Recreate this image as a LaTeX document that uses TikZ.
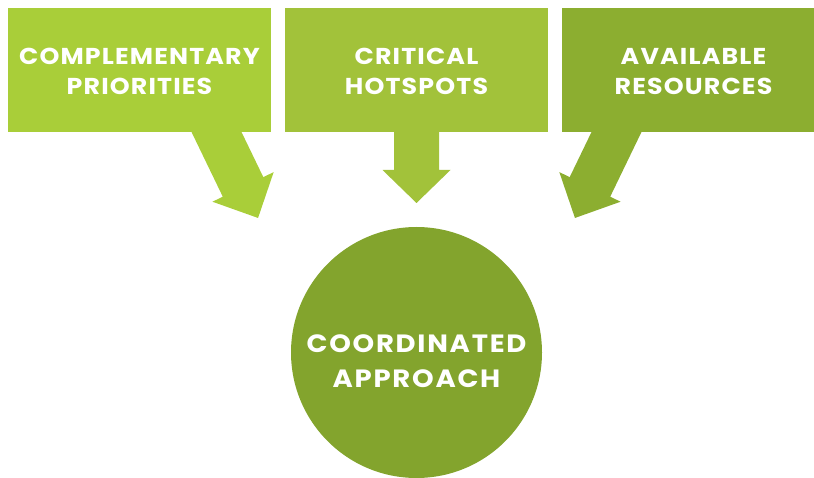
\documentclass[tikz,border=0pt]{standalone}
\usepackage{fontspec}
\setsansfont{Poppins}[FakeStretch=1.1, LetterSpace=5]
\newfontfamily\hubfont{Poppins}[FakeStretch=1.1, LetterSpace=7]
\usetikzlibrary{calc}
\definecolor{greenA}{RGB}{169,206,57}
\definecolor{greenB}{RGB}{162,194,58}
\definecolor{greenC}{RGB}{140,174,48}
\definecolor{greenD}{RGB}{131,164,45}
\tikzset{
  pics/bigarrow/.style 2 args={code={
    \fill[pic actions] (-14,22.5) -- (#1,22.5) -- (#1,34) -- (#2,0)
      -- (#1,-34) -- (#1,-22.5) -- (-14,-22.5) -- cycle;
  }},
  panel/.style={fill=#1, minimum width=263pt, minimum height=124pt,
    inner sep=0pt, outer sep=0pt},
  paneltext/.style={text=white, align=center, inner sep=0pt,
    font=\sffamily\bfseries\fontsize{23}{30}\selectfont},
  hubtext/.style={text=white, align=center, inner sep=0pt,
    font=\hubfont\bfseries\fontsize{25}{35}\selectfont},
}
\begin{document}
\begin{tikzpicture}[x=1pt,y=1pt]
\useasboundingbox (0,0) rectangle (814,-478);
\clip (0,0) rectangle (814,-478);

% arrow anchors on the lower edges of the panels
\coordinate (s1) at (216.5,-132);
\coordinate (s2) at (416.5,-132);
\coordinate (s3) at (616.5,-132);

% arrows (drawn first so the panels cover their tails)
\pic[fill=greenA, rotate=-64.2] at (s1) {bigarrow={61}{95.5}};
\pic[fill=greenB, rotate=-90] at (s2) {bigarrow={38}{71}};
\pic[fill=greenC, rotate=-115.8] at (s3) {bigarrow={61}{95.5}};

% top panels
\node[panel=greenA, anchor=north west] (box1) at (8,-8) {};
\node[panel=greenB, anchor=north west] (box2) at (285,-8) {};
\node[panel=greenC, anchor=north west] (box3) at (562,-8) {};
\node[paneltext] (t1) at ([yshift=-1.5]box1.center) {COMPLEMENTARY\\PRIORITIES};
\node[paneltext] (t2) at ([yshift=-1.5]box2.center) {CRITICAL\\HOTSPOTS};
\node[paneltext] (t3) at ([yshift=-1.5]box3.center) {AVAILABLE\\RESOURCES};

% central circle
\node[circle, fill=greenD, minimum size=251pt, inner sep=0pt] (hub) at (416.5,-352.5) {};
\node[hubtext] (ht) at ([yshift=-9]hub.center) {COORDINATED\\APPROACH};
\end{tikzpicture}
\end{document}
